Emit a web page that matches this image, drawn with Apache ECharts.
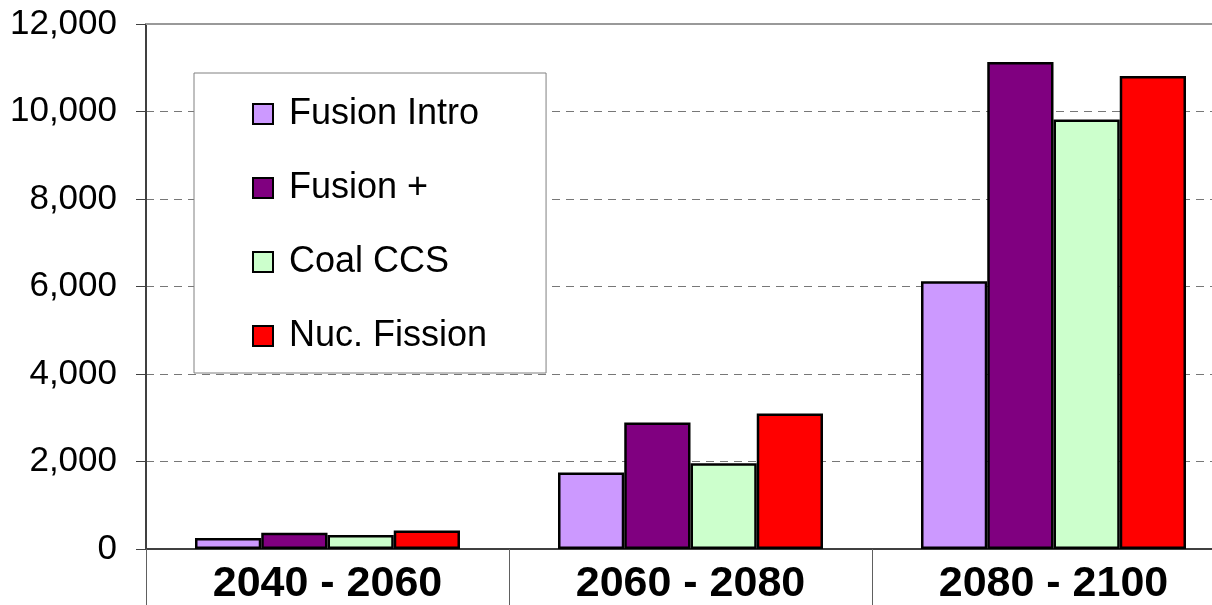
<!DOCTYPE html>
<html>
<head>
<meta charset="utf-8">
<script src="https://cdn.jsdelivr.net/npm/echarts@6/dist/echarts.min.js"></script>
<style>
  html, body { margin: 0; padding: 0; background: #fff; }
  #chart { width: 1212px; height: 605px; }
</style>
</head>
<body>
<div id="chart"></div>
<script>
// Periods on the category axis
const periods = ['2040 - 2060', '2060 - 2080', '2080 - 2100'];

// Series names and values per period
const seriesNames = ['Fusion Intro', 'Fusion +', 'Coal CCS', 'Nuc. Fission'];
const fusionIntro = [250, 1750, 6120];
const fusionPlus = [370, 2890, 11130];
const coalCCS = [320, 1960, 9820];
const nucFission = [425, 3100, 10810];

// Value axis ticks
const yMin = 0;
const yMax = 12000;
const yStep = 2000;

const colors = ['#CC99FF', '#800080', '#CCFFCC', '#FF0000'];
const values = [fusionIntro, fusionPlus, coalCCS, nucFission];

const chart = echarts.init(document.getElementById('chart'), null, { renderer: 'canvas' });

chart.setOption({
  animation: false,
  backgroundColor: '#ffffff',
  grid: {
    left: 146, top: 24, right: -23, bottom: 56,
    containLabel: false,
    outerBoundsMode: 'none'
  },
  legend: {
    orient: 'vertical',
    left: 194,
    top: 73,
    data: seriesNames,
    backgroundColor: '#ffffff',
    borderColor: '#808080',
    borderWidth: 1,
    padding: [21, 59, 17, 58],
    itemWidth: 20,
    itemHeight: 20,
    itemGap: 34,
    icon: 'rect',
    textStyle: {
      fontFamily: "'Liberation Sans', Arial, sans-serif",
      fontSize: 36,
      color: '#000',
      lineHeight: 40,
      padding: [0, 0, 0, 11]
    }
  },
  xAxis: [{
    type: 'category',
    data: periods,
    boundaryGap: true,
    axisLine: { show: true, lineStyle: { color: '#404040', width: 2 } },
    axisTick: { show: true, length: 57, interval: 0, lineStyle: { color: '#606060', width: 1 } },
    axisLabel: {
      interval: 0,
      margin: 14,
      fontFamily: "'Liberation Sans', Arial, sans-serif",
      fontWeight: 'bold',
      fontSize: 43,
      color: '#000'
    },
    splitLine: { show: false }
  }, {
    type: 'category',
    position: 'top',
    data: periods,
    axisLine: { show: true, lineStyle: { color: '#999999', width: 2 } },
    axisTick: { show: false },
    axisLabel: { show: false }
  }],
  yAxis: {
    type: 'value',
    min: yMin,
    max: yMax,
    interval: yStep,
    axisLine: { show: true, lineStyle: { color: '#404040', width: 2 } },
    axisTick: { show: true, length: 10, lineStyle: { color: '#404040', width: 1 } },
    axisLabel: {
      margin: 29,
      fontFamily: "'Liberation Sans', Arial, sans-serif",
      fontSize: 35,
      color: '#000',
      formatter: v => v.toLocaleString('en-US')
    },
    splitLine: {
      show: true,
      lineStyle: { color: '#777777', width: 1, type: [8, 6] }
    }
  },
  series: seriesNames.map((name, i) => ({
    name: name,
    type: 'bar',
    data: values[i],
    barGap: '0%',
    barCategoryGap: '27%',
    itemStyle: { color: colors[i], borderColor: '#000000', borderWidth: 2.5 }
  }))
});
</script>
</body>
</html>
